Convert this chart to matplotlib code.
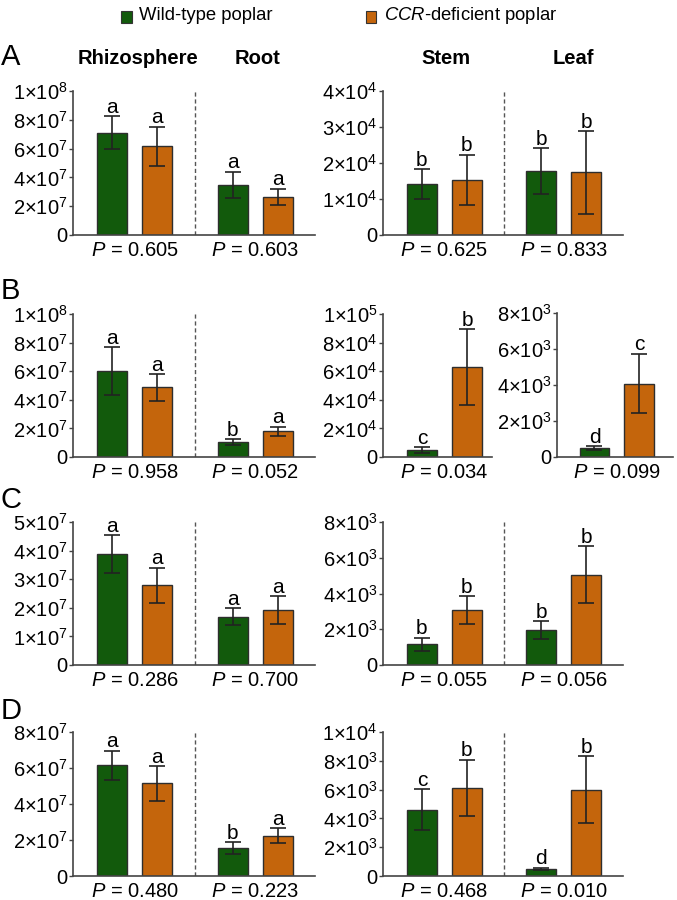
import matplotlib
matplotlib.use("Agg")
import matplotlib.pyplot as plt
from matplotlib.patches import Rectangle
from matplotlib.ticker import FixedLocator, FixedFormatter

plt.rcParams['font.family'] = ['Liberation Sans', 'DejaVu Sans']
plt.rcParams['mathtext.fontset'] = 'custom'
plt.rcParams['mathtext.rm'] = 'Liberation Sans'
plt.rcParams['mathtext.it'] = 'Liberation Sans:italic'
plt.rcParams['mathtext.bf'] = 'Liberation Sans:bold'

GREEN = '#125a0c'
ORANGE = '#c4650c'
EDGE = '#2e2e2e'
SPINE = '#444444'

compartments = ['Rhizosphere', 'Root', 'Stem', 'Leaf']
panels = ['A', 'B', 'C', 'D']
legend_labels = ['Wild-type poplar', r'$\it{CCR}$-deficient poplar']

# ---- data: [wild-type, CCR-deficient] mean and error, per compartment ----
# Panel A
A_rhizo = [7.1e7, 6.15e7]; A_rhizo_err = [1.15e7, 1.38e7]
A_root = [3.47e7, 2.63e7]; A_root_err = [0.92e7, 0.58e7]
A_stem = [1.41e4, 1.53e4]; A_stem_err = [0.42e4, 0.70e4]
A_leaf = [1.77e4, 1.74e4]; A_leaf_err = [0.64e4, 1.15e4]
A_letters = [['a', 'a'], ['a', 'a'], ['b', 'b'], ['b', 'b']]
A_p = ['0.605', '0.603', '0.625', '0.833']
# Panel B
B_rhizo = [6.02e7, 4.87e7]; B_rhizo_err = [1.68e7, 0.94e7]
B_root = [1.05e7, 1.80e7]; B_root_err = [0.21e7, 0.33e7]
B_stem = [0.49e4, 6.29e4]; B_stem_err = [0.20e4, 2.66e4]
B_leaf = [0.50e3, 4.08e3]; B_leaf_err = [0.12e3, 1.66e3]
B_letters = [['a', 'a'], ['b', 'a'], ['c', 'b'], ['d', 'c']]
B_p = ['0.958', '0.052', '0.034', '0.099']
# Panel C
C_rhizo = [3.87e7, 2.78e7]; C_rhizo_err = [0.67e7, 0.62e7]
C_root = [1.69e7, 1.92e7]; C_root_err = [0.30e7, 0.49e7]
C_stem = [1.15e3, 3.07e3]; C_stem_err = [0.38e3, 0.78e3]
C_leaf = [1.95e3, 5.06e3]; C_leaf_err = [0.52e3, 1.57e3]
C_letters = [['a', 'a'], ['a', 'a'], ['b', 'b'], ['b', 'b']]
C_p = ['0.286', '0.700', '0.055', '0.056']
# Panel D
D_rhizo = [6.15e7, 5.15e7]; D_rhizo_err = [0.82e7, 0.96e7]
D_root = [1.56e7, 2.24e7]; D_root_err = [0.33e7, 0.40e7]
D_stem = [4.60e3, 6.12e3]; D_stem_err = [1.42e3, 1.97e3]
D_leaf = [0.49e3, 6.00e3]; D_leaf_err = [0.10e3, 2.33e3]
D_letters = [['a', 'a'], ['b', 'a'], ['c', 'b'], ['d', 'b']]
D_p = ['0.480', '0.223', '0.468', '0.010']

# y tick values (top tick = axis max)
A_left_ticks = [0, 2e7, 4e7, 6e7, 8e7, 1e8]
A_right_ticks = [0, 1e4, 2e4, 3e4, 4e4]
B_left_ticks = [0, 2e7, 4e7, 6e7, 8e7, 1e8]
B_stem_ticks = [0, 2e4, 4e4, 6e4, 8e4, 1e5]
B_leaf_ticks = [0, 2e3, 4e3, 6e3, 8e3]
C_left_ticks = [0, 1e7, 2e7, 3e7, 4e7, 5e7]
C_right_ticks = [0, 2e3, 4e3, 6e3, 8e3]
D_left_ticks = [0, 2e7, 4e7, 6e7, 8e7]
D_right_ticks = [0, 2e3, 4e3, 6e3, 8e3, 1e4]

W, H = 677, 900
fig = plt.figure(figsize=(W / 100, H / 100), dpi=100)


def add_ax(x0, x1, ytop, ybot):
    return fig.add_axes([x0 / W, 1 - ybot / H, (x1 - x0) / W, (ybot - ytop) / H])


def fmt(v):
    if v == 0:
        return '0'
    e = 0
    m = v
    while m >= 10:
        m /= 10
        e += 1
    return r'%d$\mathregular{\times}$10$^{%d}$' % (round(m), e)


def style(ax, ticks):
    ax.set_ylim(0, ticks[-1])
    ax.yaxis.set_major_locator(FixedLocator(ticks))
    ax.yaxis.set_major_formatter(FixedFormatter([fmt(t) for t in ticks]))
    for s in ['top', 'right']:
        ax.spines[s].set_visible(False)
    for s in ['left', 'bottom']:
        ax.spines[s].set_color(SPINE)
        ax.spines[s].set_linewidth(1.2)
    ax.set_xticks([])
    ax.tick_params(axis='y', length=3, width=1, pad=1, labelsize=14.5, colors='black')
    ax.tick_params(axis='y', color=SPINE)
    ax.patch.set_alpha(0)


def draw_group(ax, x0, vals, errs, letters, pval):
    xs = [x0, x0 + 1]
    ax.bar(xs, vals, width=0.667, color=[GREEN, ORANGE], edgecolor=EDGE, linewidth=1.0, zorder=2)
    ax.errorbar(xs, vals, yerr=errs, fmt='none', ecolor='#222222', elinewidth=1.2,
                capsize=5.5, capthick=1.2, zorder=3)
    for x, v, e, l in zip(xs, vals, errs, letters):
        ax.annotate(l, (x, v + e), xytext=(0, -0.5), textcoords='offset points',
                    ha='center', va='bottom', fontsize=15)
    ax.annotate(r'$\it{P}$ = ' + pval, (x0 + 0.5, 0), xycoords=('data', 'axes fraction'),
                xytext=(0, -11.5), textcoords='offset points', ha='center', va='center',
                fontsize=14.5)


def divider(ax, top):
    ax.plot([1.833, 1.833], [0, top], ls=(0, (3, 2)), color='#555555', lw=1.0, zorder=1)


XL = (-0.867, 4.49)

rows = [
    dict(tb=(91, 235), left=(A_rhizo, A_rhizo_err, A_root, A_root_err, A_left_ticks),
         right=(A_stem, A_stem_err, A_leaf, A_leaf_err, A_right_ticks), letters=A_letters, p=A_p, split=False),
    dict(tb=(314, 457), left=(B_rhizo, B_rhizo_err, B_root, B_root_err, B_left_ticks),
         right=(B_stem, B_stem_err, B_leaf, B_leaf_err, B_stem_ticks, B_leaf_ticks), letters=B_letters, p=B_p, split=True),
    dict(tb=(522, 665), left=(C_rhizo, C_rhizo_err, C_root, C_root_err, C_left_ticks),
         right=(C_stem, C_stem_err, C_leaf, C_leaf_err, C_right_ticks), letters=C_letters, p=C_p, split=False),
    dict(tb=(732, 876), left=(D_rhizo, D_rhizo_err, D_root, D_root_err, D_left_ticks),
         right=(D_stem, D_stem_err, D_leaf, D_leaf_err, D_right_ticks), letters=D_letters, p=D_p, split=False),
]

for row in rows:
    yt, yb = row['tb']
    r1, r1e, r2, r2e, lt = row['left']
    ax = add_ax(73, 315, yt, yb)
    style(ax, lt)
    ax.set_xlim(*XL)
    draw_group(ax, 0, r1, r1e, row['letters'][0], row['p'][0])
    draw_group(ax, 2.667, r2, r2e, row['letters'][1], row['p'][1])
    divider(ax, lt[-1])
    if not row['split']:
        s, se, lf, lfe, rt = row['right']
        ax2 = add_ax(383, 623, yt, yb)
        style(ax2, rt)
        ax2.set_xlim(*XL)
        draw_group(ax2, 0, s, se, row['letters'][2], row['p'][2])
        draw_group(ax2, 2.667, lf, lfe, row['letters'][3], row['p'][3])
        divider(ax2, rt[-1])
    else:
        s, se, lf, lfe, st, lft = row['right']
        ax2 = add_ax(383, 492, yt, yb)
        style(ax2, st)
        ax2.set_xlim(-0.867, 1.556)
        draw_group(ax2, 0, s, se, row['letters'][2], row['p'][2])
        ax3 = add_ax(557, 673, yt - 1, yb)
        style(ax3, lft)
        ax3.set_xlim(-0.84, 1.76)
        draw_group(ax3, 0, lf, lfe, row['letters'][3], row['p'][3])

# panel letters
for lab, y in zip(panels, [57, 291, 500, 711]):
    fig.text(1 / W, 1 - y / H, lab, fontsize=21, ha='left', va='center')

# column titles
for t, x in zip(compartments, [138, 257, 446, 573]):
    fig.text(x / W, 1 - 58 / H, t, fontsize=14.5, fontweight='bold', ha='center', va='center')

# legend
for (x0, col, lab) in [(121, GREEN, legend_labels[0]), (366, ORANGE, legend_labels[1])]:
    fig.add_artist(Rectangle((x0 / W, 1 - 23 / H), 10.5 / W, 12 / H, transform=fig.transFigure,
                             facecolor=col, edgecolor='#333333', linewidth=0.8))
    fig.text((x0 + 18) / W, 1 - 15 / H, lab, fontsize=13.3, ha='left', va='center')

fig.savefig('out.png', dpi=100)
